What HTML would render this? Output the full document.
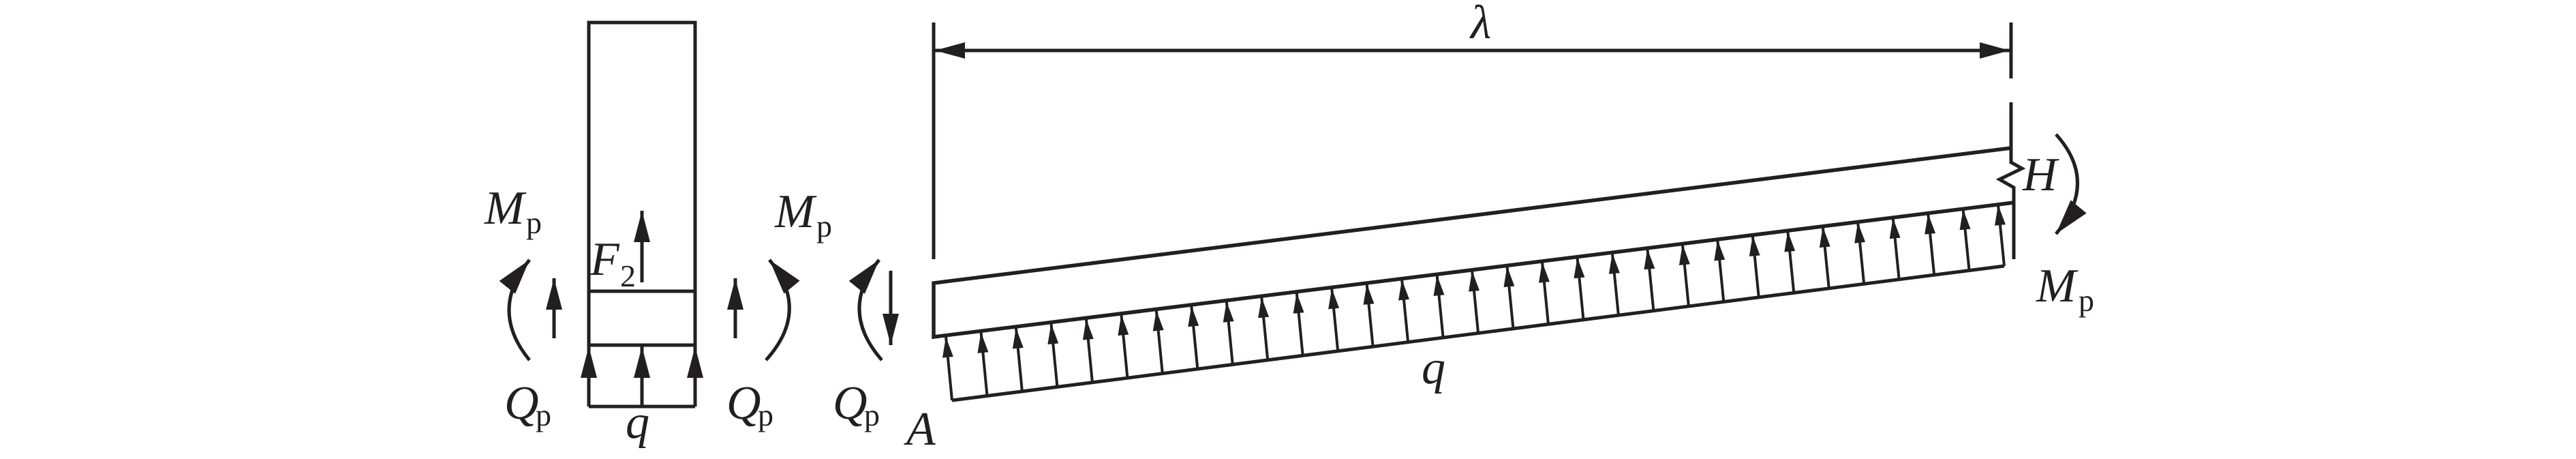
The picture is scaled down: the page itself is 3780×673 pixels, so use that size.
<!DOCTYPE html>
<html><head><meta charset="utf-8"><style>
html,body{margin:0;padding:0;background:#fff;}
svg{display:block}
text{font-family:"Liberation Serif",serif;fill:#231f20}
.i{font-style:italic;font-size:70px}
.s{font-size:46px}
</style></head><body>
<svg width="3780" height="673" viewBox="0 0 3780 673" xmlns="http://www.w3.org/2000/svg">
<defs>
<marker id="big" markerUnits="userSpaceOnUse" markerWidth="50" markerHeight="30" refX="46" refY="12" orient="auto"><path d="M0,0 L46,12 L0,24 Z" fill="#231f20"/></marker>
<marker id="dim" markerUnits="userSpaceOnUse" markerWidth="48" markerHeight="30" refX="44" refY="12" orient="auto-start-reverse"><path d="M0,0 L44,12 L0,24 Z" fill="#231f20"/></marker>
<marker id="sm" markerUnits="userSpaceOnUse" markerWidth="34" markerHeight="18" refX="30" refY="8" orient="auto"><path d="M0,0 L30,8 L0,16 Z" fill="#231f20"/></marker>
<marker id="cv" markerUnits="userSpaceOnUse" markerWidth="56" markerHeight="36" refX="52" refY="15" orient="auto"><path d="M0,0 L52,15 L0,30 Z" fill="#231f20"/></marker>
</defs>
<g stroke="#231f20" fill="none" stroke-width="5">
<rect x="864" y="33" width="156" height="473"/>
<line x1="864" y1="427" x2="1020" y2="427"/>
<line x1="864" y1="596" x2="1020" y2="596"/>
<line x1="864" y1="596" x2="864" y2="508" marker-end="url(#big)"/>
<line x1="942" y1="596" x2="942" y2="508" marker-end="url(#big)"/>
<line x1="1020" y1="596" x2="1020" y2="508" marker-end="url(#big)"/>
<line x1="942" y1="414" x2="942" y2="309" marker-end="url(#big)"/>
<line x1="813" y1="496" x2="813" y2="408" marker-end="url(#big)"/>
<line x1="1079" y1="496" x2="1079" y2="408" marker-end="url(#big)"/>
<path d="M777 528 Q717 455 777 381" marker-end="url(#cv)"/>
<path d="M1124 528 Q1190 455 1129 381" marker-end="url(#cv)"/>
<path d="M1294 528 Q1230 455 1290 381" marker-end="url(#cv)"/>
<line x1="1307" y1="397" x2="1307" y2="506" marker-end="url(#big)"/>
<line x1="1370" y1="33" x2="1370" y2="380"/>
<line x1="2951" y1="33" x2="2951" y2="115"/>
<line x1="1372" y1="74" x2="2949" y2="74" marker-start="url(#dim)" marker-end="url(#dim)"/>
<path d="M2951 150 L2951 238 L2967 247 L2934 263 L2955 275 L2955 380"/>
<path d="M2951 217 L1370 415 L1370 494 L2955 297" stroke-width="5.5"/>
<line x1="1397" y1="587" x2="2941" y2="390"/>
<path d="M3017 197 Q3080 267 3017 343" marker-end="url(#cv)"/>
</g>
<g stroke="#231f20" stroke-width="4">
<line x1="1397" y1="587" x2="1388" y2="494" marker-end="url(#sm)"/>
<line x1="1448.5" y1="580.4" x2="1439.5" y2="487.3" marker-end="url(#sm)"/>
<line x1="1499.9" y1="573.9" x2="1490.9" y2="480.8" marker-end="url(#sm)"/>
<line x1="1551.4" y1="567.3" x2="1542.4" y2="474.4" marker-end="url(#sm)"/>
<line x1="1602.9" y1="560.7" x2="1593.9" y2="467.9" marker-end="url(#sm)"/>
<line x1="1654.4" y1="554.2" x2="1645.4" y2="461.5" marker-end="url(#sm)"/>
<line x1="1705.8" y1="547.6" x2="1696.8" y2="455.0" marker-end="url(#sm)"/>
<line x1="1757.3" y1="541.0" x2="1748.3" y2="448.6" marker-end="url(#sm)"/>
<line x1="1808.8" y1="534.5" x2="1799.8" y2="442.1" marker-end="url(#sm)"/>
<line x1="1860.2" y1="527.9" x2="1851.2" y2="435.7" marker-end="url(#sm)"/>
<line x1="1911.7" y1="521.3" x2="1902.7" y2="429.2" marker-end="url(#sm)"/>
<line x1="1963.2" y1="514.8" x2="1954.2" y2="422.8" marker-end="url(#sm)"/>
<line x1="2014.6" y1="508.2" x2="2005.6" y2="416.3" marker-end="url(#sm)"/>
<line x1="2066.1" y1="501.6" x2="2057.1" y2="409.9" marker-end="url(#sm)"/>
<line x1="2117.6" y1="495.1" x2="2108.6" y2="403.4" marker-end="url(#sm)"/>
<line x1="2169.1" y1="488.5" x2="2160.1" y2="397.0" marker-end="url(#sm)"/>
<line x1="2220.5" y1="481.9" x2="2211.5" y2="390.5" marker-end="url(#sm)"/>
<line x1="2272" y1="475.4" x2="2263" y2="384.1" marker-end="url(#sm)"/>
<line x1="2323.5" y1="468.8" x2="2314.5" y2="377.6" marker-end="url(#sm)"/>
<line x1="2374.9" y1="462.2" x2="2365.9" y2="371.2" marker-end="url(#sm)"/>
<line x1="2426.4" y1="455.7" x2="2417.4" y2="364.7" marker-end="url(#sm)"/>
<line x1="2477.9" y1="449.1" x2="2468.9" y2="358.3" marker-end="url(#sm)"/>
<line x1="2529.3" y1="442.5" x2="2520.3" y2="351.8" marker-end="url(#sm)"/>
<line x1="2580.8" y1="436.0" x2="2571.8" y2="345.4" marker-end="url(#sm)"/>
<line x1="2632.3" y1="429.4" x2="2623.3" y2="338.9" marker-end="url(#sm)"/>
<line x1="2683.8" y1="422.8" x2="2674.8" y2="332.5" marker-end="url(#sm)"/>
<line x1="2735.2" y1="416.3" x2="2726.2" y2="326.0" marker-end="url(#sm)"/>
<line x1="2786.7" y1="409.7" x2="2777.7" y2="319.6" marker-end="url(#sm)"/>
<line x1="2838.2" y1="403.1" x2="2829.2" y2="313.1" marker-end="url(#sm)"/>
<line x1="2889.6" y1="396.6" x2="2880.6" y2="306.7" marker-end="url(#sm)"/>
<line x1="2941" y1="390" x2="2932" y2="300.2" marker-end="url(#sm)"/>
</g>
<text class="i" x="711" y="328">M</text><text class="s" x="772" y="342">p</text>
<text class="i" x="1137" y="333">M</text><text class="s" x="1198" y="347">p</text>
<text class="i" x="866" y="403">F</text><text class="s" x="910" y="420">2</text>
<text class="i" x="740" y="614">Q</text><text class="s" x="786" y="624">p</text>
<text class="i" x="1066" y="614">Q</text><text class="s" x="1112" y="624">p</text>
<text class="i" x="1222" y="614">Q</text><text class="s" x="1268" y="624">p</text>
<text class="i" x="918" y="642">q</text>
<text class="i" x="1330" y="652">A</text>
<text class="i" x="2086" y="562">q</text>
<text class="i" x="2158" y="56">λ</text>
<text class="i" x="2968" y="279">H</text>
<text class="i" x="2988" y="442">M</text><text class="s" x="3050" y="456">p</text>
</svg>
</body></html>
